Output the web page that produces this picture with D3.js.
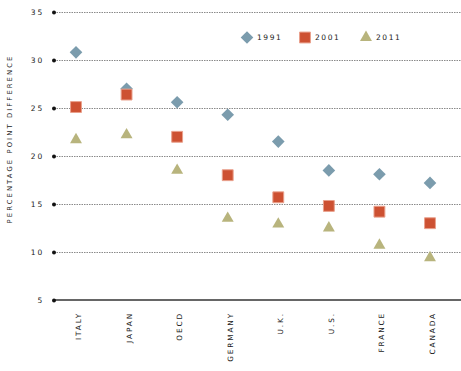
<!DOCTYPE html>
<html>
<head>
<meta charset="utf-8">
<script src="https://cdn.jsdelivr.net/npm/d3@7"></script>
<style>
  body { margin: 0; background: #fff; }
  svg { display: block; }
  text { font-family: "DejaVu Sans", sans-serif; fill: #1a1a1a; }
</style>
</head>
<body>
<div id="chart-holder"></div>
<script>
const countries = ["ITALY", "JAPAN", "OECD", "GERMANY", "U.K.", "U.S.", "FRANCE", "CANADA"];
const years = ["1991", "2001", "2011"];
const values1991 = [30.8, 27.0, 25.6, 24.3, 21.5, 18.5, 18.1, 17.2];
const values2001 = [25.1, 26.4, 22.0, 18.0, 15.7, 14.8, 14.2, 13.0];
const values2011 = [21.7, 22.2, 18.5, 13.5, 12.9, 12.5, 10.7, 9.4];
const yTicks = [5, 10, 15, 20, 25, 30, 35];

const width = 461;
const height = 371;
const marginLeft = 54;

const series = [
  { year: years[0], values: values1991, color: "#7b9cad", shape: "diamond" },
  { year: years[1], values: values2001, color: "#cd5132", shape: "square" },
  { year: years[2], values: values2011, color: "#b8b47d", shape: "triangle" }
];

// scales
const x = d3.scalePoint().domain(countries).range([76, 430]);
const y = d3.scaleLinear().domain([5, 35]).range([300, 12]);

const svg = d3.select("#chart-holder")
  .append("svg")
  .attr("width", width)
  .attr("height", height);

// dotted gridlines
svg.append("g")
  .selectAll("line")
  .data(yTicks.filter((t) => t > 5))
  .join("line")
  .attr("x1", marginLeft)
  .attr("x2", width)
  .attr("y1", (d) => y(d) + 0.5)
  .attr("y2", (d) => y(d) + 0.5)
  .attr("stroke", "#8a8a8a")
  .attr("stroke-width", 1)
  .attr("stroke-dasharray", "1.5,1");

// baseline
svg.append("line")
  .attr("x1", marginLeft)
  .attr("x2", width)
  .attr("y1", y(5))
  .attr("y2", y(5))
  .attr("stroke", "#333")
  .attr("stroke-width", 1.6);

// y axis labels + dots
const yAxis = svg.append("g")
  .attr("transform", `translate(${marginLeft},0)`)
  .call(d3.axisLeft(y).tickValues(yTicks).tickSize(0).tickPadding(10));
yAxis.select(".domain").remove();
yAxis.selectAll(".tick text")
  .attr("font-size", 7.5)
  .attr("font-family", "DejaVu Sans, sans-serif")
  .attr("letter-spacing", 1.8)
  .attr("fill", "#1a1a1a");
yAxis.selectAll(".tick")
  .append("circle")
  .attr("r", 2)
  .attr("fill", "#111");

// y title
svg.append("text")
  .attr("transform", `translate(10,139) rotate(-90)`)
  .attr("text-anchor", "middle")
  .attr("dy", "0.35em")
  .attr("font-size", 6.8)
  .attr("letter-spacing", 2.1)
  .text("PERCENTAGE POINT DIFFERENCE");

// category labels
svg.append("g")
  .selectAll("text")
  .data(countries)
  .join("text")
  .attr("transform", (d) => `translate(${x(d) + 2.5},312) rotate(-90)`)
  .attr("text-anchor", "end")
  .attr("dy", "0.35em")
  .attr("font-size", 7.3)
  .attr("letter-spacing", 1.9)
  .text((d) => d);

const symbolFor = (shape) => {
  if (shape === "diamond") return d3.symbol().type(d3.symbolSquare).size(80)();
  if (shape === "square") return d3.symbol().type(d3.symbolSquare).size(118)();
  return d3.symbol().type(d3.symbolTriangle).size(62)();
};
const rotFor = (shape) => (shape === "diamond" ? 45 : 0);

// points
series.forEach((s) => {
  svg.append("g")
    .selectAll("path")
    .data(s.values)
    .join("path")
    .attr("d", symbolFor(s.shape))
    .attr("transform", (d, i) =>
      `translate(${x(countries[i])},${y(d)}) rotate(${rotFor(s.shape)})`)
    .attr("fill", s.color)
    .attr("stroke", s.shape === "square" ? "#e9a08c" : "none")
    .attr("stroke-width", 1);
});

// legend
const legendX = [247, 305, 366];
const legend = svg.append("g");
series.forEach((s, i) => {
  legend.append("path")
    .attr("d", symbolFor(s.shape))
    .attr("transform", `translate(${legendX[i]},37.5) rotate(${rotFor(s.shape)})`)
    .attr("fill", s.color)
    .attr("stroke", s.shape === "square" ? "#e9a08c" : "none");
  legend.append("text")
    .attr("x", legendX[i] + 10)
    .attr("y", 37.5)
    .attr("dy", "0.35em")
    .attr("font-size", 7.5)
    .attr("letter-spacing", 1.6)
    .text(s.year);
});
</script>
</body>
</html>
